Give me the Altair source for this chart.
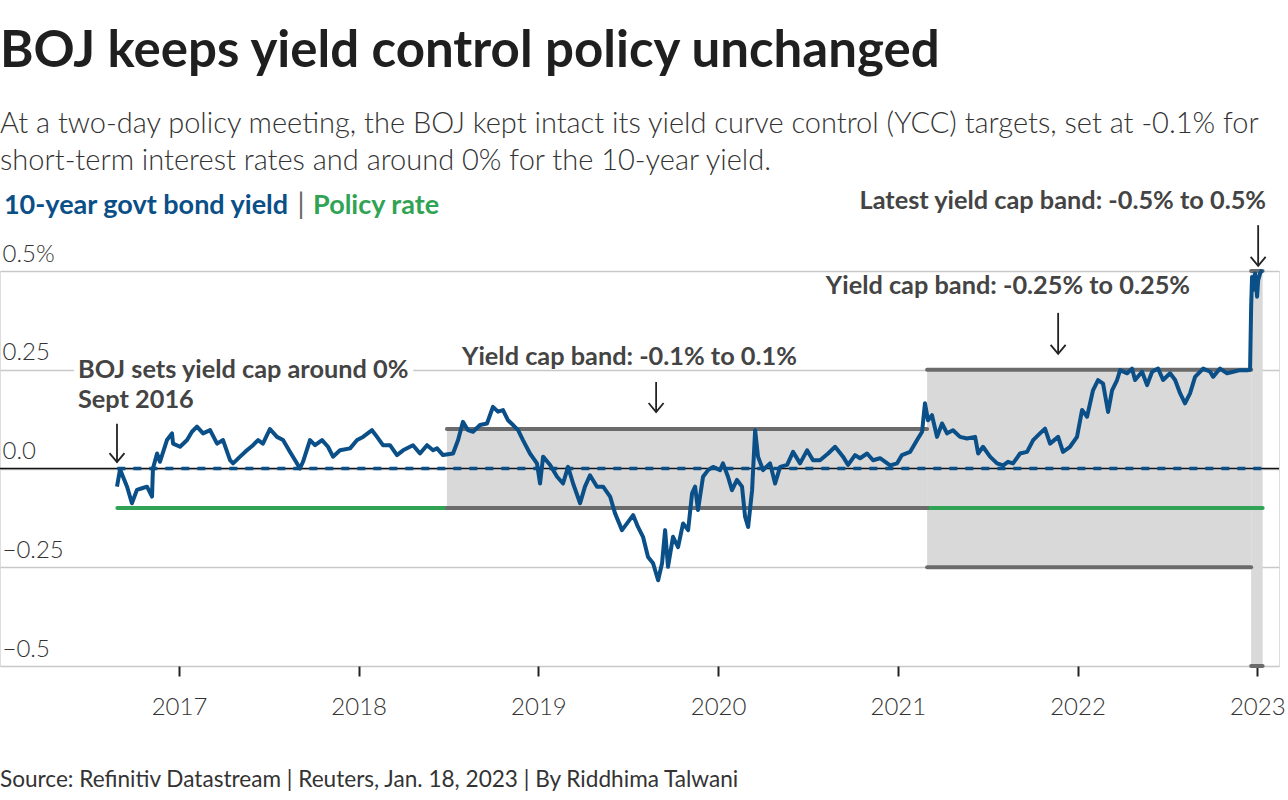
import altair as alt
import pandas as pd

# ---------------- data (time as decimal years) ----------------
yield_t = [2016.655, 2016.672, 2016.688, 2016.711, 2016.738, 2016.766, 2016.794, 2016.822, 2016.850, 2016.855,
           2016.878, 2016.894, 2016.933, 2016.961, 2016.967, 2017.006, 2017.045, 2017.072, 2017.100, 2017.134,
           2017.173, 2017.212, 2017.245, 2017.284, 2017.301, 2017.340, 2017.378, 2017.412, 2017.440, 2017.467,
           2017.506, 2017.545, 2017.579, 2017.618, 2017.646, 2017.673, 2017.690, 2017.729, 2017.757, 2017.796,
           2017.829, 2017.857, 2017.896, 2017.952, 2017.991, 2018.024, 2018.074, 2018.102, 2018.135, 2018.174,
           2018.213, 2018.247, 2018.302, 2018.341, 2018.380, 2018.414, 2018.436, 2018.469, 2018.525, 2018.553,
           2018.580, 2018.608, 2018.636, 2018.675, 2018.714, 2018.747, 2018.775, 2018.803, 2018.831, 2018.859,
           2018.887, 2018.914, 2018.953, 2018.992, 2019.009, 2019.026, 2019.065, 2019.104, 2019.137, 2019.165,
           2019.193, 2019.232, 2019.259, 2019.287, 2019.326, 2019.360, 2019.399, 2019.426, 2019.465, 2019.493,
           2019.527, 2019.554, 2019.582, 2019.610, 2019.638, 2019.666, 2019.688, 2019.705, 2019.721, 2019.749,
           2019.777, 2019.805, 2019.833, 2019.855, 2019.872, 2019.888, 2019.916, 2019.944, 2019.972, 2020.011,
           2020.027, 2020.055, 2020.077, 2020.105, 2020.133, 2020.150, 2020.167, 2020.189, 2020.206, 2020.222,
           2020.250, 2020.289, 2020.317, 2020.345, 2020.384, 2020.417, 2020.456, 2020.495, 2020.528, 2020.567,
           2020.612, 2020.651, 2020.695, 2020.723, 2020.762, 2020.790, 2020.829, 2020.862, 2020.901, 2020.957,
           2020.996, 2021.023, 2021.068, 2021.107, 2021.135, 2021.151, 2021.168, 2021.190, 2021.218, 2021.246,
           2021.274, 2021.307, 2021.346, 2021.385, 2021.430, 2021.447, 2021.474, 2021.513, 2021.552, 2021.586,
           2021.613, 2021.641, 2021.680, 2021.719, 2021.753, 2021.791, 2021.819, 2021.847, 2021.892, 2021.919,
           2021.958, 2021.997, 2022.025, 2022.053, 2022.086, 2022.114, 2022.142, 2022.170, 2022.192, 2022.220,
           2022.237, 2022.276, 2022.303, 2022.320, 2022.359, 2022.387, 2022.415, 2022.448, 2022.476, 2022.515,
           2022.543, 2022.571, 2022.598, 2022.626, 2022.654, 2022.699, 2022.738, 2022.754, 2022.793, 2022.832,
           2022.866, 2022.905, 2022.949, 2022.960, 2022.966, 2022.971, 2022.977, 2022.988, 2022.999, 2023.005,
           2023.016, 2023.027]
yield_v = [-0.046, -0.002, -0.020, -0.046, -0.088, -0.054, -0.050, -0.046, -0.071, 0.000,
           0.038, 0.017, 0.072, 0.089, 0.063, 0.055, 0.072, 0.093, 0.106, 0.089,
           0.097, 0.063, 0.072, 0.021, 0.013, 0.030, 0.046, 0.059, 0.072, 0.063,
           0.100, 0.080, 0.072, 0.042, 0.021, 0.000, 0.017, 0.072, 0.059, 0.072,
           0.055, 0.030, 0.046, 0.051, 0.072, 0.080, 0.097, 0.080, 0.059, 0.059,
           0.034, 0.046, 0.059, 0.038, 0.059, 0.046, 0.051, 0.034, 0.038, 0.072,
           0.118, 0.097, 0.093, 0.110, 0.114, 0.156, 0.144, 0.148, 0.122, 0.110,
           0.097, 0.072, 0.038, 0.013, -0.038, 0.030, 0.009, -0.021, -0.038, 0.004,
           -0.038, -0.088, -0.046, -0.017, -0.046, -0.046, -0.071, -0.113, -0.156, -0.139,
           -0.118, -0.148, -0.173, -0.224, -0.240, -0.283, -0.240, -0.156, -0.249, -0.173,
           -0.199, -0.139, -0.156, -0.063, -0.046, -0.105, -0.021, -0.004, 0.004, -0.004,
           0.013, -0.021, -0.055, -0.029, -0.046, -0.122, -0.148, -0.055, 0.097, 0.030,
           -0.004, 0.013, -0.038, 0.004, 0.009, 0.042, 0.013, 0.046, 0.021, 0.021,
           0.038, 0.055, 0.030, 0.009, 0.034, 0.026, 0.038, 0.021, 0.026, 0.008,
           0.013, 0.034, 0.042, 0.072, 0.093, 0.165, 0.122, 0.135, 0.080, 0.114,
           0.089, 0.097, 0.080, 0.076, 0.080, 0.038, 0.055, 0.030, 0.013, 0.008,
           0.017, 0.013, 0.038, 0.042, 0.072, 0.089, 0.101, 0.063, 0.080, 0.042,
           0.055, 0.080, 0.148, 0.131, 0.198, 0.224, 0.215, 0.143, 0.198, 0.224,
           0.249, 0.241, 0.253, 0.224, 0.245, 0.211, 0.245, 0.253, 0.224, 0.241,
           0.224, 0.190, 0.165, 0.190, 0.232, 0.253, 0.245, 0.232, 0.253, 0.241,
           0.245, 0.249, 0.249, 0.250, 0.410, 0.485, 0.452, 0.494, 0.435, 0.477,
           0.494, 0.503]

policy_rate = -0.1
target_level = 0.0
series_start = 2016.657
series_end = 2023.03

band_start = [2018.491, 2021.163, 2022.966]
band_end = [2021.163, 2022.966, 2023.03]
band_low = [-0.1, -0.25, -0.5]
band_high = [0.1, 0.25, 0.5]

x_ticks = [2017, 2018, 2019, 2020, 2021, 2022, 2023]
y_ticks = [0.5, 0.25, 0.0, -0.25, -0.5]
y_tick_labels = ["0.5%", "0.25", "0.0", "\u22120.25", "\u22120.5"]

arrow_t = [2016.655, 2019.655, 2021.892, 2023.005]
arrow_top = [0.113, 0.219, 0.394, 0.616]
arrow_tip = [0.016, 0.143, 0.290, 0.513]

left_notes_t = [2016.438, 2016.438, 2018.575]
left_notes_v = [0.229, 0.154, 0.262]
left_notes = ["BOJ sets yield cap around 0%", "Sept 2016", "Yield cap band: -0.1% to 0.1%"]
halo_rows = [0, 1]
right_notes_t = [2022.626, 2023.049]
right_notes_v = [0.442, 0.657]
right_notes = ["Yield cap band: -0.25% to 0.25%", "Latest yield cap band: -0.5% to 0.5%"]

legend_v = 0.644
legend_parts = ["10-year govt bond yield", "|", "Policy rate"]
legend_t = [2016.026, 2017.679, 2017.746]

source_text = "Source: Refinitiv Datastream | Reuters, Jan. 18, 2023 | By Riddhima Talwani"
source_t = 2016.004
source_v = -0.806

title_text = "BOJ keeps yield control policy unchanged"
subtitle_lines = [
    "At a two-day policy meeting, the BOJ kept intact its yield curve control (YCC) targets, set at -0.1% for",
    "short-term interest rates and around 0% for the 10-year yield.",
]

# ---------------- styling ----------------
FONT = "Lato"
BLUE = "#0a4f87"
GREEN = "#31a354"
BAND = "#d9d9d9"
EDGE = "#6b6b6b"
GRID = "#c8c8c8"
NOTE = "#444444"
NOTE_SIZE = 25.3

x_scale = alt.Scale(domain=[2016.004, 2023.121], nice=False, zero=False)
y_scale = alt.Scale(domain=[-0.5, 0.5], nice=False, zero=False)

label_expr = " : ".join(
    f"datum.value == {v} ? '{l}'" for v, l in zip(y_ticks[:-1], y_tick_labels[:-1])
) + f" : '{y_tick_labels[-1]}'"

x_axis = alt.Axis(values=x_ticks, format="d", title=None, grid=False, domain=False,
                  ticks=True, tickSize=10, tickWidth=2, tickColor="#222",
                  labelFont=FONT, labelFontSize=24, labelFontWeight=300, labelColor="#333",
                  labelBaseline="alphabetic", labelPadding=38, labelFlush=False)
y_axis = alt.Axis(values=y_ticks, title=None, grid=True, gridColor=GRID, gridWidth=1.5,
                  domain=False, ticks=False, labelExpr=label_expr, labelAlign="left",
                  labelBaseline="alphabetic", labelPadding=-2, labelOffset=-10,
                  labelFont=FONT, labelFontSize=24, labelFontWeight=300, labelColor="#333")

bands_df = pd.DataFrame({"start": band_start, "end": band_end, "low": band_low, "high": band_high})
edges_df = pd.DataFrame({
    "start": band_start + band_start,
    "end": band_end + band_end,
    "level": band_low + band_high,
})
yield_df = pd.DataFrame({"t": yield_t, "v": yield_v})
span_df = pd.DataFrame({"start": [series_start], "end": [series_end],
                        "policy": [policy_rate], "target": [target_level]})
zero_df = pd.DataFrame({"v": [target_level]})
arrows_df = pd.DataFrame({"t": arrow_t, "top": arrow_top, "tip": arrow_tip})
left_df = pd.DataFrame({"t": left_notes_t, "v": left_notes_v, "label": left_notes})
halo_df = left_df.iloc[halo_rows]
right_df = pd.DataFrame({"t": right_notes_t, "v": right_notes_v, "label": right_notes})
legend_df = pd.DataFrame({"t": legend_t, "v": [legend_v] * 3, "label": legend_parts})
source_df = pd.DataFrame({"t": [source_t], "v": [source_v], "label": [source_text]})

band_fill = alt.Chart(bands_df).mark_rect(color=BAND).encode(
    x=alt.X("start:Q", scale=x_scale, axis=x_axis), x2="end:Q",
    y=alt.Y("low:Q", scale=y_scale, axis=y_axis), y2="high:Q")

zero_rule = alt.Chart(zero_df).mark_rule(color="#111", strokeWidth=1.5).encode(
    y=alt.Y("v:Q", scale=y_scale))

policy_line = alt.Chart(span_df).mark_rule(color=GREEN, strokeWidth=4, strokeCap="round").encode(
    x=alt.X("start:Q", scale=x_scale), x2="end:Q", y=alt.Y("policy:Q", scale=y_scale))

band_edges = alt.Chart(edges_df).mark_rule(color=EDGE, strokeWidth=4, strokeCap="round").encode(
    x=alt.X("start:Q", scale=x_scale), x2="end:Q", y=alt.Y("level:Q", scale=y_scale))

target_line = alt.Chart(span_df).mark_rule(color=BLUE, strokeWidth=3.5, strokeDash=[8, 8]).encode(
    x=alt.X("start:Q", scale=x_scale), x2="end:Q", y=alt.Y("target:Q", scale=y_scale))

halo = alt.Chart(halo_df).mark_text(align="left", baseline="alphabetic", font=FONT, fontSize=NOTE_SIZE,
                                    fontWeight="bold", color="white", stroke="white",
                                    strokeWidth=12, strokeJoin="round").encode(
    x=alt.X("t:Q", scale=x_scale), y=alt.Y("v:Q", scale=y_scale), text="label:N")

yield_line = alt.Chart(yield_df).mark_line(color=BLUE, strokeWidth=4, strokeJoin="round").encode(
    x=alt.X("t:Q", scale=x_scale), y=alt.Y("v:Q", scale=y_scale))

notes_left = alt.Chart(left_df).mark_text(align="left", baseline="alphabetic", font=FONT, fontSize=NOTE_SIZE,
                                          fontWeight="bold", color=NOTE).encode(
    x=alt.X("t:Q", scale=x_scale), y=alt.Y("v:Q", scale=y_scale), text="label:N")
notes_right = alt.Chart(right_df).mark_text(align="right", baseline="alphabetic", font=FONT, fontSize=NOTE_SIZE,
                                            fontWeight="bold", color=NOTE).encode(
    x=alt.X("t:Q", scale=x_scale), y=alt.Y("v:Q", scale=y_scale), text="label:N")

arrow_shaft = alt.Chart(arrows_df).mark_rule(color="#222", strokeWidth=1.8).encode(
    x=alt.X("t:Q", scale=x_scale), y=alt.Y("top:Q", scale=y_scale), y2="tip:Q")
arrow_head = alt.Chart(arrows_df).mark_point(shape="M-1,-1.2L0,0L1,-1.2", filled=False, color="#222",
                                             strokeWidth=1.8, size=225, opacity=1).encode(
    x=alt.X("t:Q", scale=x_scale), y=alt.Y("tip:Q", scale=y_scale))

legend_blue = alt.Chart(legend_df.iloc[[0]]).mark_text(align="left", baseline="alphabetic", font=FONT,
                                                       fontSize=27, fontWeight="bold", color=BLUE).encode(
    x=alt.X("t:Q", scale=x_scale), y=alt.Y("v:Q", scale=y_scale), text="label:N")
legend_bar = alt.Chart(legend_df.iloc[[1]]).mark_text(align="center", baseline="alphabetic", font=FONT,
                                                      fontSize=28, fontWeight="normal", color="#666").encode(
    x=alt.X("t:Q", scale=x_scale), y=alt.Y("v:Q", scale=y_scale), text="label:N")
legend_green = alt.Chart(legend_df.iloc[[2]]).mark_text(align="left", baseline="alphabetic", font=FONT,
                                                        fontSize=27, fontWeight="bold", color=GREEN).encode(
    x=alt.X("t:Q", scale=x_scale), y=alt.Y("v:Q", scale=y_scale), text="label:N")

source = alt.Chart(source_df).mark_text(align="left", baseline="alphabetic", font=FONT, fontSize=22.6,
                                        fontWeight="normal", color="#333").encode(
    x=alt.X("t:Q", scale=x_scale), y=alt.Y("v:Q", scale=y_scale), text="label:N")

chart = alt.layer(
    band_fill, zero_rule, policy_line, band_edges, target_line, halo, yield_line,
    notes_left, notes_right, arrow_shaft, arrow_head, legend_blue, legend_bar, legend_green, source,
).properties(
    width=1279, height=395,
    autosize=alt.AutoSizeParams(type="none"),
    padding={"left": 0, "top": 271, "right": 9, "bottom": 134},
    title=alt.TitleParams(
        text=title_text, subtitle=subtitle_lines, anchor="start", frame="group",
        font=FONT, fontSize=51, fontWeight="bold", color="#1f1f1f",
        subtitleFont=FONT, subtitleFontSize=29, subtitleFontWeight=300, subtitleColor="#333",
        subtitleLineHeight=37, subtitlePadding=32, offset=12,
    ),
).configure_view(stroke=None).configure(background="white")

chart.save("out.html", embed_options={"renderer": "svg", "actions": False})
